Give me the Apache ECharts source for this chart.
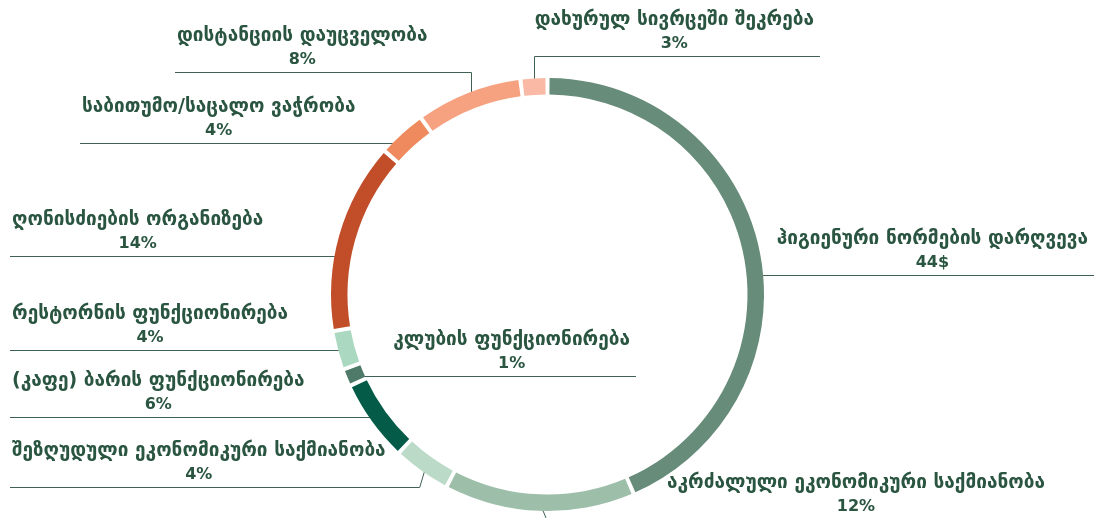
<!DOCTYPE html>
<html>
<head>
<meta charset="utf-8">
<script src="https://cdn.jsdelivr.net/npm/echarts@6/dist/echarts.min.js"></script>
<style>
html,body{margin:0;padding:0;background:#ffffff;}
#chart{width:1094px;height:518px;}
</style>
</head>
<body>
<div id="chart"></div>
<script>
// ---- data ----
const categories = [
  'ჰიგიენური ნორმების დარღვევა',
  'აკრძალული ეკონომიკური საქმიანობა',
  'შეზღუდული ეკონომიკური საქმიანობა',
  '(კაფე) ბარის ფუნქციონირება',
  'კლუბის ფუნქციონირება',
  'რესტორნის ფუნქციონირება',
  'ღონისძიების ორგანიზება',
  'საბითუმო/საცალო ვაჭრობა',
  'დისტანციის დაუცველობა',
  'დახურულ სივრცეში შეკრება'
];
// ring shares as measured from the arc lengths
const shares = [43.5, 14.2, 4.3, 6.1, 1.3, 2.9, 14.2, 3.6, 7.9, 2.0];
// percentages printed in the labels
const percentLabels = ['44$', '12%', '4%', '6%', '1%', '4%', '14%', '4%', '8%', '3%'];

// ---- styling / layout config ----
const colors = ['#678c79', '#9dbfaa', '#bbdac8', '#045c48', '#4f7a69', '#aad8c1',
                '#c14e29', '#ee8a5d', '#f6a17f', '#f9b9a4'];
const CX = 547.5, CY = 294.5, R_IN = 200, R_OUT = 216.5;
const leaderKind = ['right', 'right', 'left', 'left', 'flat', 'left', 'left', 'left', 'up', 'up'];
const textSide  = ['right', 'right', 'left', 'left', 'right', 'left', 'left', 'left', 'left', 'right'];
const lineY     = [275, 519, 487, 417, 376, 350, 256, 143, 72, 56];
const lineEnd   = [1094, 1051, 10, 10, 636, 10, 10, 80, 175, 820];

const chart = echarts.init(document.getElementById('chart'), null, {renderer: 'canvas'});

const data = categories.map((c, i) => ({
  name: c,
  value: shares[i],
  itemStyle: {color: colors[i]}
}));

const TEXT = '#2a5540';

chart.setOption({
  backgroundColor: '#ffffff',
  animation: false,
  series: [{
    type: 'pie',
    center: [CX, CY],
    radius: [R_IN, R_OUT],
    startAngle: 90,
    clockwise: true,
    padAngle: 1.1,
    avoidLabelOverlap: false,
    data: data,
    emphasis: {disabled: true},
    label: {
      show: true,
      position: 'outside',
      formatter: function (p) {
        return '{n|' + categories[p.dataIndex] + '}\n{p|' + percentLabels[p.dataIndex] + '}';
      },
      color: TEXT,
      fontFamily: 'DejaVu Sans',
      fontWeight: 'bold',
      rich: {
        n: {fontFamily: 'DejaVu Sans', fontWeight: 'bold', fontSize: 19, lineHeight: 23, color: TEXT, align: 'center'},
        p: {fontFamily: 'DejaVu Sans', fontWeight: 'bold', fontSize: 16, lineHeight: 23, color: TEXT, align: 'center'}
      }
    },
    labelLine: {
      show: true,
      length: 10,
      length2: 10,
      smooth: false,
      lineStyle: {color: '#3f6252', width: 1}
    },
    labelLayout: function (params) {
      const i = params.dataIndex;
      const pts0 = params.labelLinePoints;
      let ax, ay;
      if (pts0 && pts0[0]) {
        const vx = pts0[0][0] - CX, vy = pts0[0][1] - CY;
        const len = Math.hypot(vx, vy) || 1;
        const rm = (R_IN + R_OUT) / 2;
        ax = CX + vx / len * rm;
        ay = CY + vy / len * rm;
      } else {
        ax = params.rect.x + params.rect.width / 2;
        ay = params.rect.y + params.rect.height / 2;
      }
      const kind = leaderKind[i];
      const ly = lineY[i] + 0.5;
      const end = lineEnd[i];
      let pts;
      if (kind === 'right') {
        pts = [[ax, ay], [ax + 7, ly], [end, ly]];
      } else if (kind === 'left') {
        pts = [[ax, ay], [ax - 7, ly], [end, ly]];
      } else {
        const vx = Math.round(ax) + 0.5;
        pts = [[vx, ay], [vx, ly], [end, ly]];
      }
      const side = textSide[i];
      const lx = side === 'left' ? end + 2 : end - 6;
      return {
        x: lx,
        y: lineY[i] - 1,
        align: side,
        verticalAlign: 'bottom',
        labelLinePoints: pts,
        hideOverlap: false
      };
    }
  }]
});
</script>
</body>
</html>
